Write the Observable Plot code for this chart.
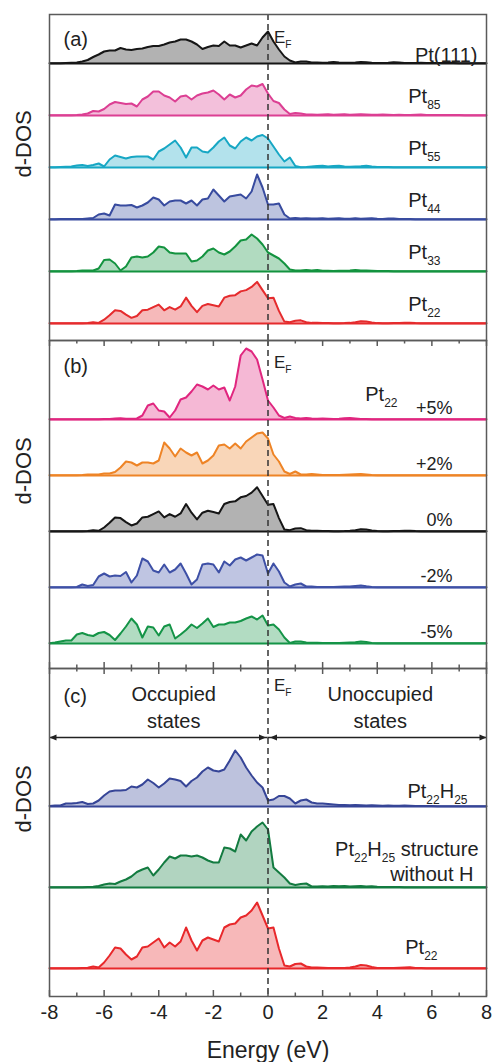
<!DOCTYPE html>
<html><head><meta charset="utf-8">
<script src="https://cdn.jsdelivr.net/npm/d3@7"></script>
<script src="https://cdn.jsdelivr.net/npm/@observablehq/plot@0.6"></script>
<style>
body{margin:0;background:#fff;}
#chart{width:492px;line-height:0;}
#chart svg{display:block;}
</style></head><body><div id="chart"></div>
<script>
// Energy grid (eV)
const energy = [-8,-7.8,-7.6,-7.4,-7.2,-7,-6.8,-6.6,-6.4,-6.2,-6,-5.8,-5.6,-5.4,-5.2,-5,-4.8,-4.6,-4.4,-4.2,-4,-3.8,-3.6,-3.4,-3.2,-3,-2.8,-2.6,-2.4,-2.2,-2,-1.8,-1.6,-1.4,-1.2,-1,-0.8,-0.6,-0.4,-0.2,0,0.2,0.4,0.6,0.8,1,1.2,1.4,1.6,1.8,2,2.2,2.4,2.6,2.8,3,3.2,3.4,3.6,3.8,4,4.2,4.4,4.6,4.8,5,5.2,5.4,5.6,5.8,6,6.2,6.4,6.6,6.8,7,7.2,7.4,7.6,7.8,8];

// d-DOS (arbitrary units), panel (a)
const pt111 = [0.3,0.3,0.3,0.5, 0.7,1,2,3.5,6.5,9,12,13,13,15.5, 14,13.5,14.5,15,16.5,17.5,17.5,19,21,22, 24,24,22,19,14.5,16.5,18,17.5,22,18, 18,16,18,20,18,26,32,22,14,7, 3,1,2,2,1, 1,0.8,1,1.5,1,0.8,0.8,1,1.5,1.2, 0.8,0.6,0.6,0.8,1.2,1,0.6,0.5,0.5,0.8, 0.6,0.5,0.5,0.4,0.4,0.4,0.3,0.3,0.3,0.3, 0.3,0.3];
const pt85 = [0.3,0.3,0.3,0.3, 0.3,0.5,1,2,4.5,4,6.5,11,13.5,12.5, 11.5,12,9,16,19,24,24,20,18,14, 19,20,16,20,22,23,25,21,16,21, 18,20,26,30,29,31.5,22,14.5,12.5,6, 1.5,2.5,2,1,1, 0.8,1,1.2,0.8,1,1.2,0.8,1,1.2,1, 0.8,0.8,1,0.8,0.6,0.8,0.6,0.6,0.8,1, 0.6,0.5,0.5,0.5,0.4,0.4,0.4,0.3,0.3,0.3, 0.3,0.3];
const pt55 = [0.3,0.3,0.5,0.8, 1,2,2.5,1.5,2.5,4,1,8,12,10.5, 9,10.5,11,11,11,8,16,19,23,27, 20,10,20,20,16,15,20,26,30,22, 19,26,30,27,31,32.5,29,21,13,6, 10,1.5,0.3,0.5,1, 1.5,1.8,1,1.5,1.8,1,0.8,1,1.2,1.8, 1,0.6,0.5,0.4,0.3,0.3,0.3,0.3,0.3,0.3, 0.3,0.3,0.3,0.3,0.3,0.3,0.3,0.3,0.3,0.3, 0.3,0.3];
const pt44 = [0.3,0.3,0.5,0.5, 0.5,0.5,0.5,1,1.5,5,6,4,15,14, 14,14.5,12,14,17,22,20,14,18,19, 19,16,19,14,20,21,30,24,18,23, 24,25,21,28,45,32,15,15,16,5, 1,1.5,1,1.2,1, 1,1.2,0.8,1,1.2,0.8,0.8,1.2,0.8,1, 1.2,0.8,0.6,1,1,0.6,0.5,0.5,0.3,0.3, 0.3,0.3,0.3,0.3,0.3,0.3,0.3,0.3,0.3,0.3, 0.3,0.3];
const pt33 = [0.3,0.3,0.3,0.3, 0.3,0.5,1,1,1,3,11.5,12,8,1, 5,14,15,14,15,19,25,24,19,18, 18,18,10,11,15,21,23,19,17,20, 25,31,32,37,33,27,19,16,13,8, 2,1,1,1.5,1, 1.5,0.8,0.8,0.6,0.8,0.8,1,1.5,1,1, 0.8,0.6,0.5,0.5,0.3,0.3,0.3,0.3,0.3,0.3, 0.3,0.3,0.3,0.3,0.3,0.3,0.3,0.3,0.3,0.3, 0.3,0.3];
const pt22 = [0.3,0.3,0.3,0.3, 0.3,0.3,0.5,0.8,2,1,6,13,21,20, 14,9,12,21,22,26,30,21,26,22, 27,41,28,18,28,31,29,27,41,44, 45,51,53,58,66,53,40,41,20,3, 2,4.5,5,2,1, 1,0.8,0.6,0.5,0.5,0.6,1,2,3.5,3, 1.5,0.6,0.5,0.5,0.6,0.8,1,1.2,0.6,0.4, 0.3,0.3,0.3,0.3,0.3,0.3,0.3,0.3,0.3,0.3, 0.3,0.3];

// panel (b): Pt22 under strain
const strainP5 = [0.3,0.3,0.3,0.3, 0.3,0.3,0.3,0.3,0.3,0.3,0.4,0.5,1,1.3, 0.8,0.8,1,4,14,16,9,8,2,9, 20,22,28,35,33,30,34,30,32,19, 33,64,71,68,60,40,19,12,4,1.5, 3,1.5,1,1.5,1, 0.8,1,0.8,0.6,0.8,1.2,1.5,1,0.6,0.5, 0.3,0.3,0.3,0.3,0.3,0.3,0.3,0.3,0.3,0.3, 0.3,0.3,0.3,0.3,0.3,0.3,0.3,0.3,0.3,0.3, 0.3,0.3];
const strainP2 = [0.3,0.3,0.3,0.3, 0.3,0.3,0.5,1,1,1,2,2,3.5,8, 14,13,10,13,13,12,15,33,27,19, 27,23,20,23,12,15,20,30,31,27, 32,27,34,38,42,43,37,21,14,4, 1.5,4,1,1,1.5, 1,0.6,0.5,0.5,0.6,0.8,1,1.3,1.5,1, 0.5,0.3,0.3,0.3,0.3,0.3,0.3,0.3,0.3,0.3, 0.3,0.3,0.3,0.3,0.3,0.3,0.3,0.3,0.3,0.3, 0.3,0.3];
const strainM2 = [0.3,0.3,0.3,0.3, 0.3,0.5,3,1.5,2.5,11,14,11,12,11.5, 15.5,5,12,29,26,17,15,23,15,18, 24,14,3,8,23,24,23,15,26,22, 28,30,27,30,33,32,14,24,16,5, 1,3,4,1,1, 0.6,0.5,0.5,0.5,0.8,1,1,1.5,2,1.2, 0.6,0.3,0.3,0.3,0.3,0.3,0.3,0.3,0.3,0.3, 0.3,0.3,0.3,0.3,0.3,0.3,0.3,0.3,0.3,0.3, 0.3,0.3];
const strainM5 = [0.3,1,2,3, 3,9,10.5,8.5,7.5,10.5,11.5,8.5,3.5,10, 17,25,19,6,17,16,8,17,19,5, 9,13.5,19,15.5,20,25,16.5,19,19,21, 21,22.5,25,27,24,28,18,19,14,6, 0.5,2,2,1,0.8, 0.8,0.6,0.5,0.5,0.6,0.8,1,1.2,2,1.5, 0.6,0.3,0.3,0.3,0.3,0.3,0.3,0.3,0.3,0.3, 0.3,0.3,0.3,0.3,0.3,0.3,0.3,0.3,0.3,0.3, 0.3,0.3];

// panel (c): hydrogen
const pt22h25 = [0.5,1,1,3, 3,3.5,4.5,2.5,3,6,11,15,16,16, 16.5,20,19,22,27,23.5,19,23,28,27, 25.5,20,25.5,29,35,39,36,35,37,46, 56,49,39,31,24,19,6,7,10.5,10.5, 8,3,6,7,4, 3,3,2.5,2,1.5,1.5,1.2,1.5,1.2,1, 1.2,1,0.8,1,0.8,0.8,1,0.8,0.6,0.6, 0.5,0.5,0.3,0.3,0.3,0.3,0.3,0.3,0.3,0.3, 0.3,0.3];
const pt22h25NoH = [0.3,0.3,0.3,0.3, 0.3,0.3,0.3,0.5,0.7,1.5,3,4,3.5,6, 8,11,15.5,18,20,12,18,25,31,29, 32,32,31,32,30,27,25,25,40,39, 36,53,47,56,61,65,58,20,15,10, 4,2.5,3.5,4,1, 1,1.2,1,1.5,1.2,1.5,1,1.2,1.5,1, 1.2,0.8,0.6,0.5,0.5,0.5,0.3,0.3,0.3,0.3, 0.3,0.3,0.3,0.3,0.3,0.3,0.3,0.3,0.3,0.3, 0.3,0.3];

const majorTicks = [-8,-6,-4,-2,0,2,4,6,8];
const minorTicks = [-7,-5,-3,-1,1,3,5,7];
const tickLabels = ["-8","-6","-4","-2","0","2","4","6","8"];
const regions = [{from:-8, to:0, label:"Occupied\nstates"}, {from:0, to:8, label:"Unoccupied\nstates"}];

const FONT = "'Liberation Sans', Arial, Helvetica, sans-serif";
const INK = "#222";
const AXIS = "#5a5a5a";

const triRight = {draw(c){ c.moveTo(0,0); c.lineTo(-7,-3); c.lineTo(-7,3); c.closePath(); }};
const triLeft  = {draw(c){ c.moveTo(0,0); c.lineTo(7,-3); c.lineTo(7,3); c.closePath(); }};

function makePanel(cfg) {
  const H = cfg.height - cfg.mt - cfg.mb;
  const bases = cfg.series.map((s, i) => cfg.pad + i * cfg.step);
  const marks = [];
  cfg.series.forEach((s, i) => {
    const rows = s.values.map((v, j) => ({x: energy[j], base: bases[i], y: bases[i] + v * s.gain}));
    marks.push(Plot.areaY(rows, {x: "x", y1: "base", y2: "y", fill: s.color, fillOpacity: 0.33}));
    marks.push(Plot.ruleY([bases[i]], {stroke: s.color, strokeWidth: 2}));
    marks.push(Plot.line(rows, {x: "x", y: "y", stroke: s.color, strokeWidth: 2, strokeLinejoin: "round"}));
  });
  marks.push(Plot.ruleX([0], {stroke: "#333", strokeWidth: 1.5, strokeDasharray: "6,4"}));
  if (cfg.arrowY != null) {
    marks.push(Plot.ruleY(regions, {x1: "from", x2: "to", y: cfg.arrowY, stroke: INK, strokeWidth: 1.3}));
    marks.push(Plot.dot([regions[0]], {x: "from", y: cfg.arrowY, symbol: triLeft, r: 3, fill: INK, stroke: "none"}));
    marks.push(Plot.dot([regions[1]], {x: "from", y: cfg.arrowY, symbol: triLeft, r: 3, fill: INK, stroke: "none", dx: 2}));
    marks.push(Plot.dot([regions[0]], {x: "to", y: cfg.arrowY, symbol: triRight, r: 3, fill: INK, stroke: "none", dx: -2}));
    marks.push(Plot.dot([regions[1]], {x: "to", y: cfg.arrowY, symbol: triRight, r: 3, fill: INK, stroke: "none"}));
    marks.push(Plot.text([regions[0]], {x: d => (d.from + d.to) / 2, y: cfg.arrowY + 10, text: "label", dx: 15, lineAnchor: "bottom", lineHeight: 1.35, fontSize: 20, fill: INK}));
    marks.push(Plot.text([regions[1]], {x: d => (d.from + d.to) / 2, y: cfg.arrowY + 10, text: "label", dx: 3, lineAnchor: "bottom", lineHeight: 1.35, fontSize: 20, fill: INK}));
  }
  marks.push(Plot.frame({stroke: AXIS, strokeWidth: 1.5}));
  if (cfg.ticksBottom) {
    marks.push(Plot.ruleX(majorTicks, {x: d => d, y1: 0, y2: 6, stroke: AXIS, strokeWidth: 1.5}));
    marks.push(Plot.ruleX(minorTicks, {x: d => d, y1: 0, y2: 3.5, stroke: AXIS, strokeWidth: 1.5}));
  }
  if (cfg.ticksTop) {
    marks.push(Plot.ruleX(majorTicks, {x: d => d, y1: H - 6, y2: H, stroke: AXIS, strokeWidth: 1.5}));
    marks.push(Plot.ruleX(minorTicks, {x: d => d, y1: H - 3.5, y2: H, stroke: AXIS, strokeWidth: 1.5}));
  }
  cfg.series.forEach((s, i) => {
    s.labels.forEach(l => {
      marks.push(Plot.text([l.text], {x: 8, y: bases[i] + l.up, dx: l.dx, textAnchor: "end", lineAnchor: "bottom", fontSize: l.size, fill: INK}));
    });
  });
  (cfg.extra || []).forEach(l => {
    marks.push(Plot.text([l.text], {x: 8, y: l.y, dx: l.dx, textAnchor: "end", lineAnchor: "bottom", fontSize: l.size, fill: INK}));
  });
  marks.push(Plot.text([cfg.letter], {x: -8, y: H - cfg.letterDown, dx: 14, textAnchor: "start", lineAnchor: "bottom", fontSize: 20, fill: INK}));
  marks.push(Plot.text(["E_{F}"], {x: 0, y: H - cfg.efDown, dx: 6, textAnchor: "start", lineAnchor: "bottom", fontSize: 17, fill: INK}));
  marks.push(Plot.text(["d-DOS"], {frameAnchor: "left", dx: -26, rotate: -90, fontSize: 22, fill: INK}));
  if (cfg.xAxis) {
    marks.push(Plot.text(majorTicks, {x: d => d, text: (d, i) => tickLabels[i], frameAnchor: "bottom", dy: 22, lineAnchor: "bottom", fontSize: 20, fill: INK}));
    marks.push(Plot.text(["Energy (eV)"], {frameAnchor: "bottom", dy: 61, lineAnchor: "bottom", fontSize: 23, fill: INK}));
  }
  return Plot.plot({
    width: 492, height: cfg.height,
    marginLeft: 49, marginRight: 6, marginTop: cfg.mt, marginBottom: cfg.mb,
    x: {domain: [-8, 8], axis: null},
    y: {domain: [0, H], axis: null},
    style: {fontFamily: FONT, background: "white", overflow: "visible"},
    marks
  });
}

const ptLab = (t) => [{text: t, up: 13, dx: -46, size: 20}];
const pctLab = (t) => [{text: t, up: 6, dx: -34, size: 18}];

const panelA = {height: 340, mt: 14, mb: 0, pad: 17, step: 52, letter: "(a)", letterDown: 31, efDown: 28, ticksBottom: false, ticksTop: false,
  series: [
    {values: pt22, gain: 0.63, color: "#e52b2d", labels: ptLab("Pt_{22}")},
    {values: pt33, gain: 1, color: "#13933f", labels: ptLab("Pt_{33}")},
    {values: pt44, gain: 1, color: "#384b9f", labels: ptLab("Pt_{44}")},
    {values: pt55, gain: 1, color: "#17a7c4", labels: ptLab("Pt_{55}")},
    {values: pt85, gain: 1, color: "#dc3f93", labels: ptLab("Pt_{85}")},
    {values: pt111, gain: 1, color: "#161616", labels: [{text: "Pt(111)", up: 2, dx: -9, size: 20}]}
  ]};
const panelB = {height: 328, mt: 0, mb: 0, pad: 25, step: 56, letter: "(b)", letterDown: 32, efDown: 27, ticksBottom: true, ticksTop: true,
  series: [
    {values: strainM5, gain: 1, color: "#149447", labels: pctLab("-5%")},
    {values: strainM2, gain: 1, color: "#3e50a6", labels: pctLab("-2%")},
    {values: pt22, gain: 0.67, color: "#161616", labels: pctLab("0%")},
    {values: strainP2, gain: 1, color: "#ee8426", labels: pctLab("+2%")},
    {values: strainP5, gain: 1, color: "#e0267f", labels: pctLab("+5%")}
  ],
  extra: [{text: "Pt_{22}", y: 268, dx: -89, size: 20}]};
const panelC = {height: 394, mt: 0, mb: 66, pad: 28, step: 81, letter: "(c)", letterDown: 34, efDown: 22, ticksBottom: true, ticksTop: true, xAxis: true, arrowY: 259,
  series: [
    {values: pt22, gain: 1, color: "#e8282b", labels: [{text: "Pt_{22}", up: 15, dx: -49, size: 20}]},
    {values: pt22h25NoH, gain: 1, color: "#137b40", labels: [{text: "Pt_{22}H_{25} structure", up: 32, dx: -8, size: 20}, {text: "without H", up: 7, dx: -13, size: 20}]},
    {values: pt22h25, gain: 1, color: "#364597", labels: [{text: "Pt_{22}H_{25}", up: 9, dx: -19, size: 20}]}
  ]};

const chart = document.getElementById("chart");
[panelA, panelB, panelC].forEach(p => chart.appendChild(makePanel(p)));

function richify(root) {
  const NS = "http://www.w3.org/2000/svg";
  root.querySelectorAll("text").forEach(t => {
    if (t.querySelector("tspan")) return;
    const s = t.textContent;
    if (!s.includes("_{")) return;
    const fs = parseFloat(getComputedStyle(t).fontSize) || 16;
    t.textContent = "";
    const parts = s.split(/(_\{[^}]*\})/).filter(p => p.length);
    let down = false;
    for (const p of parts) {
      const ts = document.createElementNS(NS, "tspan");
      if (p.startsWith("_{")) {
        ts.textContent = p.slice(2, -1);
        ts.setAttribute("font-size", (fs * 0.6).toFixed(1));
        if (!down) { ts.setAttribute("dy", (fs * 0.3).toFixed(1)); down = true; }
      } else {
        ts.textContent = p;
        if (down) { ts.setAttribute("dy", (-fs * 0.3).toFixed(1)); down = false; }
      }
      t.appendChild(ts);
    }
  });
}
richify(chart);
</script></body></html>
